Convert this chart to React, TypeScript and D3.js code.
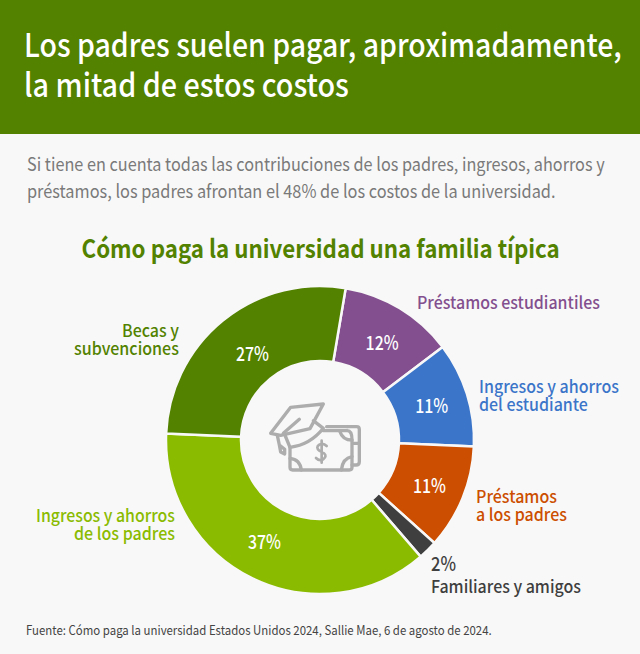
import React, { useLayoutEffect, useRef, useState } from "react";
import * as d3 from "d3";

const titleLines = [
  { text: "Los padres suelen pagar, aproximadamente,", width: 598 },
  { text: "la mitad de estos costos", width: 325 },
];
const subtitleLines = [
  { text: "Si tiene en cuenta todas las contribuciones de los padres, ingresos, ahorros y", width: 578 },
  { text: "préstamos, los padres afrontan el 48% de los costos de la universidad.", width: 529 },
];
const chartTitle = "Cómo paga la universidad una familia típica";
const source = "Fuente: Cómo paga la universidad Estados Unidos 2024, Sallie Mae, 6 de agosto de 2024.";

const values = [12, 11, 11, 2, 37, 27];
const colors = ["#834f8e", "#3b75c9", "#cc4e00", "#3f3f3f", "#8abb00", "#528200"];
const valueLabels = ["12%", "11%", "11%", "", "37%", "27%"];
const valueNudges = [
  [2, 3],
  [1, 2],
  [2, 3],
  [0, 0],
  [-5, -1],
  [5.5, 5],
];
const categoryLabels = [
  { lines: ["Préstamos estudiantiles"], widths: [183], x: 417, y: 309, anchor: "start", color: "#834f8e" },
  { lines: ["Ingresos y ahorros", "del estudiante"], widths: [140, 109], x: 479, y: 393, anchor: "start", color: "#3b75c9" },
  { lines: ["Préstamos", "a los padres"], widths: [81, 91], x: 476, y: 503, anchor: "start", color: "#cc4e00" },
  { lines: ["Familiares y amigos"], widths: [150], x: 431, y: 593, anchor: "start", color: "#3f3f3f" },
  { lines: ["Ingresos y ahorros", "de los padres"], widths: [139, 101], x: 175, y: 522, anchor: "end", color: "#8abb00" },
  { lines: ["Becas y", "subvenciones"], widths: [57, 105], x: 179, y: 337, anchor: "end", color: "#528200" },
];

const FONT = '"Noto Sans CJK SC", "Noto Sans", sans-serif';
const BG = "#f8f8f8";
const cx = 320;
const cy = 440;
const START = (9.6 * Math.PI) / 180;

// Text squeezed horizontally to the width it has in the reference.
function FitText({ x, y, width, children, ...rest }: any) {
  const ref = useRef<SVGTextElement>(null);
  const [k, setK] = useState(1);
  useLayoutEffect(() => {
    if (ref.current) setK(width / ref.current.getComputedTextLength());
  }, [width, children]);
  return (
    <text ref={ref} transform={`translate(${x},${y}) scale(${k},1)`} {...rest}>
      {children}
    </text>
  );
}

export default function App() {
  const pie = d3
    .pie<number>()
    .sort(null)
    .startAngle(START)
    .endAngle(START + 2 * Math.PI);
  const arcs = pie(values);
  const arc = d3.arc<d3.PieArcDatum<number>>().innerRadius(79).outerRadius(154);
  const labelArc = d3.arc<d3.PieArcDatum<number>>().innerRadius(116).outerRadius(116);

  return (
    <svg
      width={640}
      height={654}
      viewBox="0 0 640 654"
      style={{ position: "absolute", left: 0, top: 0, display: "block", fontFamily: FONT }}
    >
      <rect width={640} height={654} fill={BG} />
      <rect width={640} height={134} fill="#528200" />
      {titleLines.map((t, i) => (
        <FitText key={t.text} x={24} y={57 + i * 40} width={t.width} fontSize={32} fontWeight={500} fill="#fff">
          {t.text}
        </FitText>
      ))}
      {subtitleLines.map((t, i) => (
        <FitText key={t.text} x={27} y={171 + i * 27} width={t.width} fontSize={18.5} fill="#7a7a7a">
          {t.text}
        </FitText>
      ))}
      <FitText x={81.5} y={258} width={478.5} fontSize={25} fontWeight={700} fill="#528200">
        {chartTitle}
      </FitText>

      <g transform={`translate(${cx},${cy})`}>
        {arcs.map((a, i) => (
          <path key={i} d={arc(a) as string} fill={colors[i]} stroke={BG} strokeWidth={2.5} />
        ))}
        {arcs.map((a, i) => {
          if (!valueLabels[i]) return null;
          const [x, y] = labelArc.centroid(a);
          const w = 33;
          return (
            <FitText
              key={i}
              x={x + valueNudges[i][0] - w / 2}
              y={y + 6 + valueNudges[i][1]}
              width={w}
              fontSize={19.5}
              fontWeight={500}
              fill="#fff"
            >
              {valueLabels[i]}
            </FitText>
          );
        })}
      </g>

      {categoryLabels.map((c) =>
        c.lines.map((l, j) => (
          <FitText
            key={l}
            x={c.anchor === "end" ? c.x - c.widths[j] : c.x}
            y={c.y + j * 18}
            width={c.widths[j]}
            fontSize={17}
            fontWeight={500}
            fill={c.color}
          >
            {l}
          </FitText>
        ))
      )}
      <FitText x={431} y={571} width={25} fontSize={19.5} fontWeight={500} fill="#3f3f3f">
        2%
      </FitText>

      <g
        transform="translate(260,390) scale(0.3333)"
        fill="none"
        stroke="#adadad"
        strokeWidth={10}
        strokeLinejoin="round"
        strokeLinecap="round"
      >
        <path d="M32 130 L92 52 L190 42 L150 116 L62 136 Z" />
        <path d="M70 130 L118 88" />
        <path d="M160 92 L190 115 Q150 165 90 172 L76 138" />
        <path d="M52 136 L58 165 M58 165 L74 178 L74 192 L62 186 Z" />
        <path d="M90 172 L90 232 Q90 240 98 240 L268 240 Q276 240 276 232 L276 150 Q276 122 262 122 L190 122" />
        <path d="M262 110 L290 110 Q298 110 298 118 L298 215 Q298 225 288 225 L276 225" />
        <path d="M200 110 L262 110" />
        <path d="M276 150 Q248 150 240 125 M90 205 Q120 208 124 240 M276 200 Q248 205 244 240 M298 160 L278 160" />
        <path d="M200 168 Q190 158 178 164 Q166 172 178 182 L192 190 Q202 198 190 208 Q178 214 168 204 M185 152 L185 218" strokeWidth={8} />
      </g>

      <FitText x={26} y={635} width={466} fontSize={12.5} fill="#444">
        {source}
      </FitText>
    </svg>
  );
}
